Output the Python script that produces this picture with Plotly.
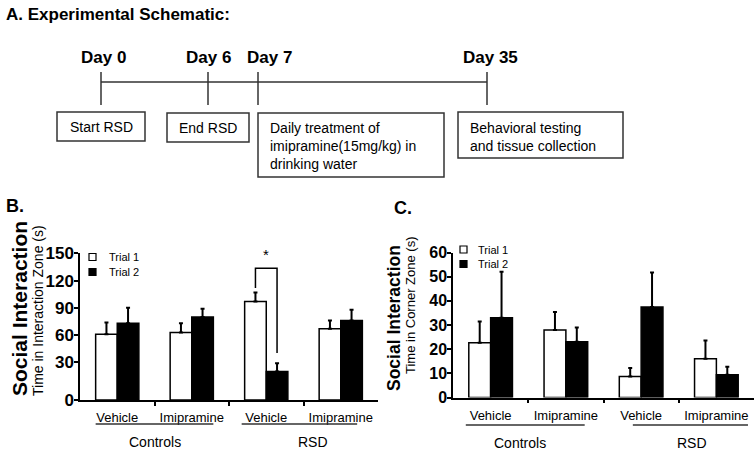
import plotly.graph_objects as go

W, H = 756, 452
FONT = "Liberation Sans, Arial, sans-serif"

# ---------------- data ----------------
SERIES = ["Trial 1", "Trial 2"]
SERIES_FILL = ["white", "black"]
CONDITIONS = ["Vehicle", "Imipramine", "Vehicle", "Imipramine"]
GROUPS = ["Controls", "RSD"]

# Panel B: time in interaction zone (s)
B_T1 = [61, 63, 97, 67]
B_T1_ERR = [13, 10, 10, 9]
B_T2 = [73, 80, 20, 76]
B_T2_ERR = [17, 9, 9, 12]
B_TICKS = [0, 30, 60, 90, 120, 150]

# Panel C: time in corner zone (s)
C_T1 = [22.7, 27.9, 8.7, 16.0]
C_T1_ERR = [8.7, 7.5, 3.5, 7.6]
C_T2 = [33.0, 23.1, 37.4, 9.4]
C_T2_ERR = [19.0, 5.9, 14.3, 3.3]
C_TICKS = [0, 10, 20, 30, 40, 50, 60]

# Panel A: timeline
DAYS = ["Day 0", "Day 6", "Day 7", "Day 35"]
STEPS = ["Start RSD", "End RSD",
         "Daily treatment of<br>imipramine(15mg/kg) in<br>drinking water",
         "Behavioral testing<br>and tissue collection"]

# ---------------- layout helpers ----------------
def px(x):
    return x / W

def py(y):
    return 1 - y / H

B_FLOOR = -11.4   # bottom of panel B value axis (the "0" label sits there)
BAR_W = 0.29
GX = list(range(len(CONDITIONS)))

fig = go.Figure()

def add_bars(xa, ya, t1, e1, t2, e2, base):
    for name, fill, vals, errs, off in [
        (SERIES[0], SERIES_FILL[0], t1, e1, -BAR_W),
        (SERIES[1], SERIES_FILL[1], t2, e2, 0.0),
    ]:
        fig.add_trace(go.Bar(
            x=GX, y=[v - base for v in vals], base=base,
            width=BAR_W, offset=off, name=name, showlegend=False,
            marker=dict(color=fill, line=dict(color="black", width=1.5)),
            error_y=dict(type="data", array=errs, arrayminus=[0] * len(errs),
                         symmetric=False, color="black", thickness=2, width=2),
            xaxis=xa, yaxis=ya,
            customdata=vals, hovertemplate="%{customdata}<extra>" + name + "</extra>",
        ))

add_bars("x", "y", B_T1, B_T1_ERR, B_T2, B_T2_ERR, B_FLOOR)
add_bars("x2", "y2", C_T1, C_T1_ERR, C_T2, C_T2_ERR, 0)

xcommon = dict(
    range=[-0.5, 3.5], showline=True, linecolor="black", linewidth=1.5,
    showgrid=False, zeroline=False, ticks="", tickvals=GX, ticktext=CONDITIONS,
    tickfont=dict(family=FONT, size=13, color="black"), ticklabelstandoff=5,
    minor=dict(tickvals=[0.5, 1.5, 2.5], ticks="outside", ticklen=4,
               tickwidth=1.5, tickcolor="black"),
    fixedrange=True, automargin=False,
)
ycommon = dict(
    showline=True, linecolor="black", linewidth=1.5, showgrid=False,
    zeroline=False, ticks="outside", ticklen=4, tickwidth=1.5, tickcolor="black",
    fixedrange=True, automargin=False, ticklabelstandoff=-3,
)

fig.update_layout(
    width=W, height=H, margin=dict(l=0, r=0, t=0, b=0, autoexpand=False),
    paper_bgcolor="white", plot_bgcolor="white", barmode="overlay",
    font=dict(family=FONT, color="black"),
    xaxis=dict(domain=[px(80), px(378)], anchor="y", **xcommon),
    yaxis=dict(domain=[py(400), py(253.3)], anchor="x", range=[B_FLOOR, 150],
               tickvals=[B_FLOOR] + B_TICKS[1:], ticktext=[str(t) for t in B_TICKS],
               tickfont=dict(family=FONT, size=17, weight="bold", color="black"),
               **ycommon),
    xaxis2=dict(domain=[px(453), px(754)], anchor="y2", **xcommon),
    yaxis2=dict(domain=[py(397.5), py(252.5)], anchor="x2", range=[0, 60],
                tickvals=C_TICKS, ticktext=[str(t) for t in C_TICKS],
                tickfont=dict(family=FONT, size=16, weight="bold", color="black"),
                **ycommon),
)

shapes = []
ann = []
LINE_GRAY = "#333333"

def text(x, y, s, size, bold=False, xanchor="center", yanchor="middle",
         angle=0, align="center"):
    ann.append(dict(x=px(x), y=py(y), xref="paper", yref="paper", text=s,
                    showarrow=False, xanchor=xanchor, yanchor=yanchor,
                    textangle=angle, align=align,
                    font=dict(family=FONT, size=size, color="black",
                              weight="bold" if bold else "normal")))

# ---------------- Panel A ----------------
text(4, 14, "A. Experimental Schematic:", 17, bold=True, xanchor="left")
TICK_X = [101, 208, 258, 487]
DAY_LABEL_X = [103, 208, 269, 490]
shapes.append(dict(type="line", xref="paper", yref="paper",
                   x0=px(TICK_X[0]), x1=px(TICK_X[-1]), y0=py(82), y1=py(82),
                   line=dict(color=LINE_GRAY, width=1.5)))
for tx, lx, d in zip(TICK_X, DAY_LABEL_X, DAYS):
    shapes.append(dict(type="line", xref="paper", yref="paper",
                       x0=px(tx), x1=px(tx), y0=py(72), y1=py(105),
                       line=dict(color=LINE_GRAY, width=1.5)))
    text(lx, 58, d, 17, bold=True)

BOXES = [(57, 112, 145, 141), (167, 113, 249, 142), (258, 113, 444, 177), (458, 112, 623, 158)]
for (x0, y0, x1, y1) in BOXES:
    shapes.append(dict(type="rect", xref="paper", yref="paper",
                       x0=px(x0), x1=px(x1), y0=py(y1), y1=py(y0),
                       line=dict(color=LINE_GRAY, width=1.5), fillcolor="rgba(0,0,0,0)"))
text(101, 127, STEPS[0], 14)
text(208, 128, STEPS[1], 14)
text(268, 118, STEPS[2], 14, xanchor="left", yanchor="top", align="left")
text(468, 118, STEPS[3], 14, xanchor="left", yanchor="top", align="left")

# ---------------- Panel labels and axis titles ----------------
text(4, 206, "B.", 18, bold=True, xanchor="left")
text(392, 208, "C.", 18, bold=True, xanchor="left")
text(19, 309, "Social Interaction", 21, bold=True, angle=-90)
text(38, 311, "Time in Interaction Zone (s)", 14, angle=-90)
text(394, 318, "Social Interaction", 17.5, bold=True, angle=-90)
text(410, 305, "Time in Corner Zone (s)", 13, angle=-90)

# ---------------- legends (manual, small swatches) ----------------
for (sx, tx, rows) in [(89, 107, [257, 272]), (460, 476, [249.5, 264])]:
    for name, fill, ry in zip(SERIES, SERIES_FILL, rows):
        shapes.append(dict(type="rect", xref="paper", yref="paper",
                           x0=px(sx), x1=px(sx + 7), y0=py(ry + 3.5), y1=py(ry - 3.5),
                           fillcolor=fill, line=dict(color="black", width=1.2)))
        text(tx, ry, name, 11, xanchor="left")

# ---------------- group underlines and labels ----------------
def group_marks(xref, spans, label_x, yline, ylab):
    for (a, b), lx, g in zip(spans, label_x, GROUPS):
        shapes.append(dict(type="line", xref=xref, yref="paper", x0=a, x1=b,
                           y0=py(yline), y1=py(yline),
                           line=dict(color=LINE_GRAY, width=1.5)))
        ann.append(dict(x=lx, y=py(ylab), xref=xref, yref="paper", text=g,
                        showarrow=False, xanchor="center", yanchor="middle",
                        font=dict(family=FONT, size=14, color="black")))

group_marks("x", [(-0.29, 1.29), (1.67, 3.22)], [0.5, 2.63], 424, 442)
group_marks("x2", [(-0.33, 1.25), (1.89, 3.42)], [0.39, 2.67], 425, 443)

# ---------------- significance bracket (panel B, RSD vehicle) ----------------
BR_TOP = 133.6
BR_LEFT_END = 111.8
BR_RIGHT_END = 40.3
xl, xr = 2 - BAR_W / 2, 2 + BAR_W / 2
shapes.append(dict(type="path", xref="x", yref="y",
                   path=f"M {xl},{BR_LEFT_END} L {xl},{BR_TOP} L {xr},{BR_TOP} L {xr},{BR_RIGHT_END}",
                   line=dict(color="black", width=1.5)))
ann.append(dict(x=2, y=BR_TOP + 3, xref="x", yref="y", text="*", showarrow=False,
                yanchor="bottom", font=dict(family=FONT, size=15, color="black")))

fig.update_layout(shapes=shapes, annotations=ann)
fig.write_html("out.html", config={"displayModeBar": False},
               post_script="document.body.style.margin='0';document.body.style.overflow='hidden';")
